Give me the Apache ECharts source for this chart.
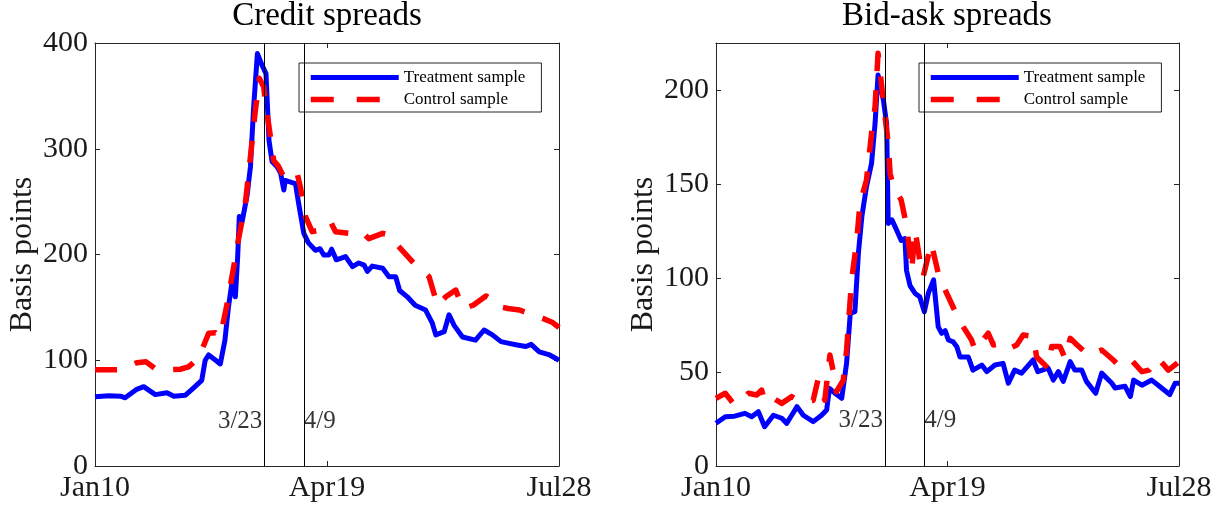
<!DOCTYPE html>
<html>
<head>
<meta charset="utf-8">
<script src="https://cdn.jsdelivr.net/npm/echarts@6/dist/echarts.min.js"></script>
<style>
html,body{margin:0;padding:0;background:#fff;}
#chart{width:1219px;height:510px;}
</style>
</head>
<body>
<div id="chart"></div>
<script>
// x values are calendar days since 10 Jan 2020 (Apr19 = 100, Jul28 = 200)
const xTickLabels = ['Jan10', 'Apr19', 'Jul28'];
const eventDays = [73, 90];
const eventLabels = ['3/23', '4/9'];
const seriesNames = ['Treatment sample', 'Control sample'];

// Credit spreads, treatment sample
const creditTreatDays = [0,6,11,13,18,21,23,26,31,34,39,42.4,46,47.5,49,52,54,56,57.5,59,60.5,61.5,62.2,63.4,65.5,67,68.4,70,72,73.7,75,76.3,78.5,80,81.4,82,85,86.4,87.8,90,92,95,97,98.6,100.8,102,104,108,111,113.7,116,117.4,119.5,124,126.7,129.6,131.3,134.6,138,142.5,145.4,146.9,150.5,152.6,154.8,158.4,164,167.7,171.3,175,178.5,182,185.7,188,191.5,196,200];
const creditTreatVals = [65.5,66.5,66,64.5,72.5,75,72,67.5,69.3,66,67,73.7,81,100,105,100,96.5,119,150,173,160,198,236,231,255,283,340,390,379,371,308,288,283,277,261,270,268,267,248,220,211,204,205.5,199.5,199.5,205,195,198,188.5,192,190,184,189,187,179,179,166,160,152,147.5,135,124,127,143,133,122,119,128.6,124,117.6,116,114.4,113,115,108,105,100];

// Credit spreads, control sample
const creditCtrlDays = [0,6,11,18,22,26,31,36.7,40.3,44.6,49,52,54,57,59.8,61.2,62.6,64.8,67,68.8,70.8,72.7,73.7,75,77,79,81,85,87,88.5,90.7,93.6,96.5,101.5,103.7,109.4,115,118,124,127.4,130.3,137.5,144,147.6,151.2,155.5,157.7,159,163,168.5,171.3,173.5,178,183,188.6,193,197,200];
const creditCtrlVals = [91,91,91,97.7,98.5,92,91,91.5,93.7,102,125.5,126,122,154,188.5,207,223,248,292.5,330,366.6,358.7,340,321,289,283.7,275,274,278,264,236,221.6,223,231,221.6,220,221.6,215,220,218,209,191.6,179,152,160,166.4,153.8,149,152,160.8,157,151,149,147.5,143,139.6,136,131];

// Bid-ask spreads, treatment sample
const bidaskTreatDays = [0,4,8,12.5,15.4,18.3,21,24.8,28.4,30.5,32.7,35,37.7,42,45.6,47.8,49,51.4,54.3,56.4,58,60,61.5,63,65,67.2,68.7,70,72.3,73.7,74.4,76,78,80,81.6,82.3,83.8,86,88,90,91.7,94,96,97.5,99,100.4,102.5,104,105.4,109,111,114.8,117,120.5,124,126.3,129,132,137,139,143.5,145.7,147.9,150,153,155,158,160,164,166.6,171,172.4,176.7,179,180.4,184,188.2,192.5,196,198.3,200];
const bidaskTreatVals = [22.7,26.2,26.5,28,26.2,28.9,20.9,27,25.4,22.7,27,31.6,27,23.6,27,29.8,41.3,38.7,36,54.6,81.2,82.1,113,132.6,148.6,161,182,208,194.7,182,129,130.9,125.5,120,121,104,96,91.8,90,82,91.8,99,74,70.6,72,67,66,63.5,58,58,51,53.7,50.2,53.7,54.6,44,51,49.4,56.4,50.2,52,45.7,50.2,45,55.5,51,51,45,38.7,49.4,44,41.5,42.4,36.9,45.7,43,45.7,41.5,38,44,44];

// Bid-ask spreads, control sample
const bidaskCtrlDays = [0,4,7.5,11.8,14,17.6,19.7,21.2,24.8,28.4,32.7,37,42,44,47,49.2,50.7,52,55,56.4,58.6,60.8,62.2,65,67.2,68.7,70,71.6,73,74.4,75.2,76.6,80,82.4,84.5,86,88,89.5,93,96,99,103,106.8,110.4,111.9,117.6,119.8,124.8,127,129.9,132.7,137,138.5,143.5,145,148.6,150.8,153,156,160.8,166.6,171.6,174.5,180,184,187,191,195.4,200];
const bidaskCtrlVals = [36,38.7,33.3,35,38.7,37.8,40.4,34,36,33.3,36.9,34,35,45.7,35,59,50,39.5,45.7,61.7,99,120,139.7,152,177,191,219.5,201.8,186,171.6,155.7,148.6,141.5,127.3,104,125.5,109.6,100.7,118.5,102.5,93.6,83,74,67,61.7,70.6,64.4,65.3,62.6,64.4,69.7,69,58,52,63.5,63.5,57.3,67.9,64.4,59,61.7,56.4,52.8,55.5,50.2,51,57.3,51,55.5];

const zip = (xs, ys) => xs.map((x, i) => [x, ys[i]]);

const FONT = 'Liberation Serif';
const AX = '#262626';
const BLUE = '#0000ff';
const RED = '#ff0000';
const BLUE_STYLE = {color: BLUE, width: 5, type: 'solid', cap: 'butt', join: 'round'};
const RED_STYLE = {color: RED, width: 5.5, type: [22, 19], cap: 'butt', join: 'round'};

function xAx(gridIndex, pos) {
  return {
    type: 'value', gridIndex, position: pos, min: 0, max: 200, interval: 100,
    axisLine: {show: true, onZero: false, lineStyle: {color: AX, width: 1}},
    axisTick: {show: true, inside: true, length: 5, lineStyle: {color: AX}},
    splitLine: {show: false},
    axisLabel: pos === 'bottom' ? {
      show: true, fontFamily: FONT, fontSize: 30, color: '#1a1a1a', margin: 7,
      showMinLabel: true, showMaxLabel: true,
      formatter: v => xTickLabels[Math.round(v / 100)] || ''
    } : {show: false}
  };
}
function yAx(gridIndex, pos, max, interval) {
  const o = {
    type: 'value', gridIndex, position: pos, min: 0, max, interval,
    axisLine: {show: true, onZero: false, lineStyle: {color: AX, width: 1}},
    axisTick: {show: true, inside: true, length: 5, lineStyle: {color: AX}},
    splitLine: {show: false},
    axisLabel: pos === 'left' ? {
      show: true, fontFamily: FONT, fontSize: 30, color: '#1a1a1a', margin: 7,
      formatter: v => (v % interval === 0 ? String(v) : '')
    } : {show: false}
  };
  if (pos === 'left') {
    o.name = 'Basis points';
    o.nameLocation = 'middle';
    o.nameGap = 56;
    o.nameTextStyle = {fontFamily: FONT, fontSize: 32, color: '#1a1a1a'};
  }
  return o;
}

function lineSeries(name, data, xi, yi, style, z) {
  return {
    name, type: 'line', data, xAxisIndex: xi, yAxisIndex: yi,
    symbol: 'none', showSymbol: false, smooth: false, z,
    lineStyle: style,
    itemStyle: {color: style.color},
    emphasis: {disabled: true}
  };
}

function eventSeries(xi, yi, labelY) {
  return {
    type: 'scatter', xAxisIndex: xi, yAxisIndex: yi, symbolSize: 0, z: 5, silent: true,
    data: eventDays.map((d, i) => ({
      value: [d, labelY],
      label: {
        show: true, formatter: eventLabels[i],
        position: i === 0 ? 'left' : 'right', distance: i === 0 ? 2 : 0,
        fontFamily: FONT, fontSize: 25, color: '#000'
      }
    })),
    markLine: {
      silent: true, symbol: 'none', animation: false,
      lineStyle: {color: '#000', width: 1, type: 'solid'},
      label: {show: false},
      data: eventDays.map(d => ({xAxis: d}))
    }
  };
}

function legend(left) {
  return {
    left, top: 63, orient: 'vertical',
    itemWidth: 88, itemHeight: 14, itemGap: 5,
    padding: [6, 16, 4, 9],
    borderColor: AX, borderWidth: 1, backgroundColor: '#fff',
    textStyle: {fontFamily: FONT, fontSize: 17, color: '#000'},
    data: [
      {name: seriesNames[0], lineStyle: {color: BLUE, width: 5, type: 'solid', cap: 'butt'}, itemStyle: {opacity: 0, color: BLUE}},
      {name: seriesNames[1], lineStyle: {color: RED, width: 5.5, type: [23, 23], cap: 'butt'}, itemStyle: {opacity: 0, color: RED}}
    ],
    selectedMode: false
  };
}

const chart = echarts.init(document.getElementById('chart'), null, {renderer: 'canvas'});
chart.setOption({
  animation: false,
  backgroundColor: '#fff',
  title: [
    {text: 'Credit spreads', left: 327, top: 0, padding: 0, textAlign: 'center',
     textStyle: {fontFamily: FONT, fontSize: 33, fontWeight: 'normal', color: '#000'}},
    {text: 'Bid-ask spreads', left: 947, top: 0, padding: 0, textAlign: 'center',
     textStyle: {fontFamily: FONT, fontSize: 33, fontWeight: 'normal', color: '#000'}}
  ],
  legend: [legend(299), legend(919)],
  grid: [
    {left: 95, top: 43, width: 464, height: 423, containLabel: false},
    {left: 716, top: 43, width: 463, height: 423, containLabel: false}
  ],
  xAxis: [xAx(0, 'bottom'), xAx(0, 'top'), xAx(1, 'bottom'), xAx(1, 'top')],
  yAxis: [yAx(0, 'left', 400, 100), yAx(0, 'right', 400, 100), yAx(1, 'left', 225, 50), yAx(1, 'right', 225, 50)],
  series: [
    lineSeries(seriesNames[0], zip(creditTreatDays, creditTreatVals), 0, 0, BLUE_STYLE, 2),
    lineSeries(seriesNames[1], zip(creditCtrlDays, creditCtrlVals), 0, 0, RED_STYLE, 3),
    lineSeries(seriesNames[0], zip(bidaskTreatDays, bidaskTreatVals), 2, 2, BLUE_STYLE, 2),
    lineSeries(seriesNames[1], zip(bidaskCtrlDays, bidaskCtrlVals), 2, 2, RED_STYLE, 3),
    eventSeries(0, 0, 42.5),
    eventSeries(2, 2, 24)
  ]
});
</script>
</body>
</html>
